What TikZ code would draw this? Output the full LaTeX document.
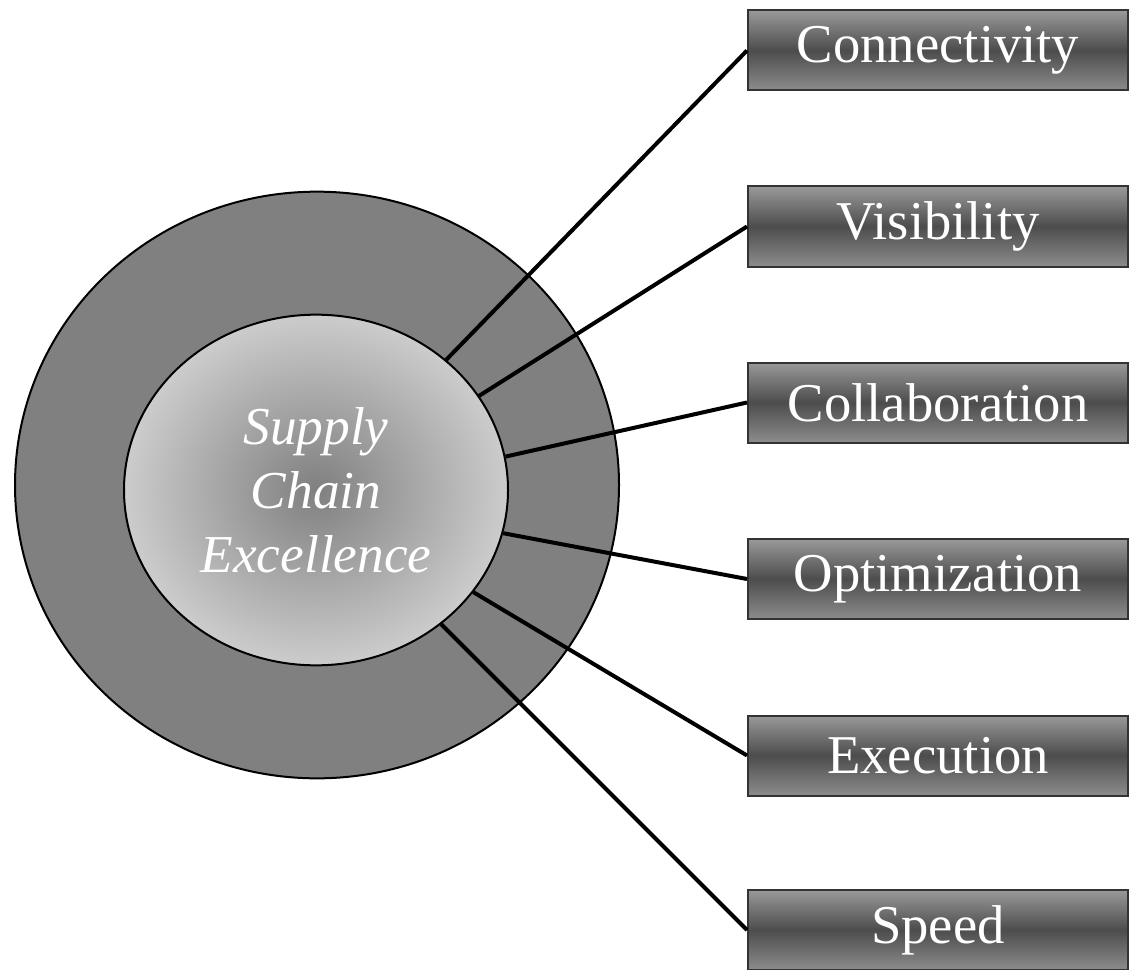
\documentclass[tikz,border=0pt]{standalone}
\usepackage{fontspec}
\setmainfont{Liberation Serif}
\usetikzlibrary{shapes.geometric}

\tikzset{
	pillar/.style={rectangle, draw=black!80, line width=1.5pt, minimum width=285pt, minimum height=60pt,
		top color=black!40, bottom color=black!45, middle color=black!70,
		text=white, font=\fontsize{41}{48}\selectfont, inner sep=0pt},
	spoke/.style={line width=3pt, color=black}
}

\begin{document}
\begin{tikzpicture}[x=0.75pt, y=-0.75pt]
		%%%%% START %%%%%
		
		\useasboundingbox (0, 0) rectangle (1131, 970);
		
		\node[ellipse, draw=black, line width=1.5pt, fill=black!50, minimum width=453pt, minimum height=440pt] (ring) at (317, 485) {};
		\node[ellipse, draw=black, line width=1.5pt, inner color=black!50, outer color=black!20, minimum width=288pt, minimum height=263pt,
			align=center, text=white, font=\itshape\fontsize{40}{48}\selectfont] (core) at (316, 490) {Supply\\Chain\\Excellence};
		
		\node[pillar] (conn) at (938, 50.5) {Connectivity};
		\node[pillar] (vis) at (938, 226.5) {Visibility};
		\node[pillar] (collab) at (938, 402.5) {Collaboration};
		\node[pillar] (optim) at (938, 579) {Optimization};
		\node[pillar] (exec) at (938, 755.5) {Execution};
		\node[pillar] (speed) at (938, 930) {Speed};
		
		\draw[spoke] (core.45) -- (conn.west);
		\draw[spoke] (core.30.6) -- (vis.west);
		\draw[spoke] (core.10.4) -- (collab.west);
		\draw[spoke] (core.-13) -- (optim.west);
		\draw[spoke] (core.-33) -- (exec.west);
		\draw[spoke] (core.-47) -- (speed.west);
		
		%%%%% END %%%%%
\end{tikzpicture}
\end{document}
